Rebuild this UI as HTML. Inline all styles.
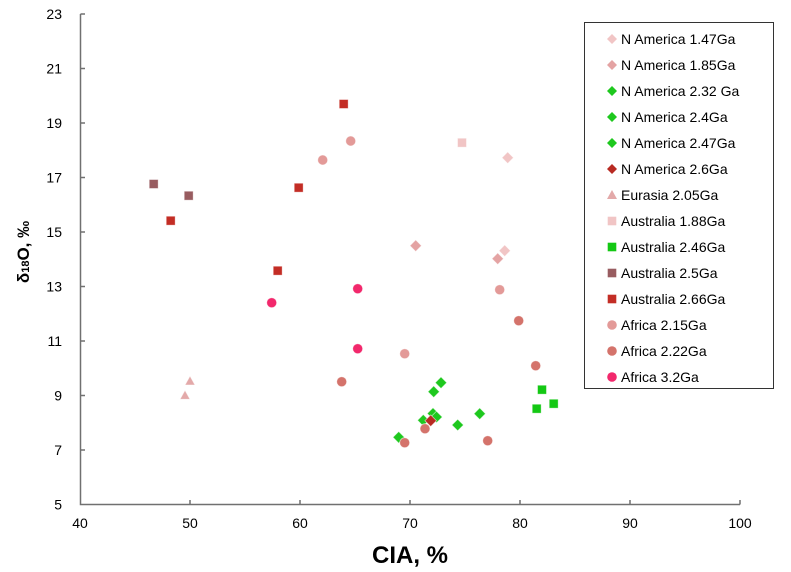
<!DOCTYPE html>
<html>
<head>
<meta charset="utf-8">
<style>
html,body{margin:0;padding:0;background:#fff;}
svg{display:block;}
text{font-family:"Liberation Sans",sans-serif;fill:#000;}
</style>
</head>
<body>
<svg width="791" height="572" viewBox="0 0 791 572" xmlns="http://www.w3.org/2000/svg">
<defs>
  <path id="dm" d="M0,-5.8 L5.8,0 L0,5.8 L-5.8,0 Z"/>
  <path id="dml" d="M0,-5 L5,0 L0,5 L-5,0 Z"/>
  <rect id="sq" x="-4.5" y="-4.5" width="9" height="9"/>
  <rect id="sql" x="-4.3" y="-4.3" width="8.6" height="8.6"/>
  <path id="tr" d="M0,-5 L5,4 L-5,4 Z"/>
  <path id="trl" d="M0,-5 L5,4 L-5,4 Z"/>
</defs>

<!-- axes -->
<g stroke="#707070" stroke-width="1.5" fill="none">
  <path d="M80.5,14 L80.5,504.5 L740,504.5"/>
  <path d="M80.5,14 H85 M80.5,68.5 H85 M80.5,123 H85 M80.5,177.5 H85 M80.5,232 H85 M80.5,286.5 H85 M80.5,341 H85 M80.5,395.5 H85 M80.5,450 H85"/>
  <path d="M190,504.5 V500 M300,504.5 V500 M410,504.5 V500 M520,504.5 V500 M630,504.5 V500 M740,504.5 V500"/>
</g>

<g font-size="14" text-anchor="end">
  <text x="62" y="19">23</text>
  <text x="62" y="73.5">21</text>
  <text x="62" y="128">19</text>
  <text x="62" y="182.5">17</text>
  <text x="62" y="237">15</text>
  <text x="62" y="291.5">13</text>
  <text x="62" y="346">11</text>
  <text x="62" y="400.5">9</text>
  <text x="62" y="455">7</text>
  <text x="62" y="509.5">5</text>
</g>
<g font-size="14" text-anchor="middle">
  <text x="80" y="528">40</text>
  <text x="190" y="528">50</text>
  <text x="300" y="528">60</text>
  <text x="410" y="528">70</text>
  <text x="520" y="528">80</text>
  <text x="630" y="528">90</text>
  <text x="740" y="528">100</text>
</g>

<text x="410" y="563" font-size="24" font-weight="bold" text-anchor="middle">CIA, %</text>
<text transform="translate(29,252) rotate(-90)" font-size="17" font-weight="bold" text-anchor="middle">δ<tspan font-size="11">18</tspan>O, ‰</text>

<g stroke="#ffffff" stroke-opacity="0.6" stroke-width="0.8">
  <g fill="#f1c5c5">
    <use href="#dm" x="507.7" y="157.7"/>
    <use href="#dm" x="504.7" y="250.7"/>
  </g>
  <g fill="#e4a3a3">
    <use href="#dm" x="415.7" y="245.7"/>
    <use href="#dm" x="497.7" y="258.7"/>
  </g>
  <g fill="#1ec81e">
    <use href="#dm" x="441" y="382.7"/>
    <use href="#dm" x="433.7" y="391.7"/>
    <use href="#dm" x="433" y="413.5"/>
    <use href="#dm" x="436.5" y="417"/>
    <use href="#dm" x="423.3" y="420.3"/>
    <use href="#dm" x="479.7" y="413.7"/>
    <use href="#dm" x="457.7" y="425"/>
    <use href="#dm" x="398.7" y="437.3"/>
  </g>
  <g fill="#b82a22">
    <use href="#dm" x="430.7" y="420.7"/>
  </g>
  <g fill="#e3a9a9">
    <use href="#tr" x="190" y="381"/>
    <use href="#tr" x="185" y="395.3"/>
  </g>
  <g fill="#f1c5c5">
    <use href="#sq" x="462" y="142.7"/>
  </g>
  <g fill="#14c814">
    <use href="#sq" x="542" y="389.7"/>
    <use href="#sq" x="553.7" y="403.7"/>
    <use href="#sq" x="536.7" y="408.7"/>
  </g>
  <g fill="#985c60">
    <use href="#sq" x="153.7" y="184"/>
    <use href="#sq" x="188.7" y="195.7"/>
  </g>
  <g fill="#c32d25">
    <use href="#sq" x="343.7" y="104"/>
    <use href="#sq" x="298.7" y="187.7"/>
    <use href="#sq" x="170.7" y="220.7"/>
    <use href="#sq" x="277.7" y="270.7"/>
  </g>
  <g fill="#e39a98">
    <circle cx="322.7" cy="160" r="5"/>
    <circle cx="350.7" cy="141" r="5"/>
    <circle cx="499.7" cy="289.7" r="5"/>
    <circle cx="404.7" cy="353.7" r="5"/>
  </g>
  <g fill="#d4736b">
    <circle cx="518.7" cy="320.7" r="5"/>
    <circle cx="535.7" cy="365.7" r="5"/>
    <circle cx="341.7" cy="381.7" r="5"/>
    <circle cx="425" cy="428.7" r="5"/>
    <circle cx="404.7" cy="442.7" r="5"/>
    <circle cx="487.7" cy="440.7" r="5"/>
  </g>
  <g fill="#f2286c">
    <circle cx="357.7" cy="288.7" r="5"/>
    <circle cx="271.7" cy="302.7" r="5"/>
    <circle cx="357.7" cy="348.7" r="5"/>
  </g>
</g>

<rect x="584.5" y="22.5" width="189" height="366" fill="#fff" stroke="#333" stroke-width="1"/>
<g>
  <use href="#dml" x="612" y="39" fill="#f1c5c5"/>
  <use href="#dml" x="612" y="65" fill="#e4a3a3"/>
  <use href="#dml" x="612" y="91" fill="#1ec81e"/>
  <use href="#dml" x="612" y="117" fill="#1ec81e"/>
  <use href="#dml" x="612" y="143" fill="#1ec81e"/>
  <use href="#dml" x="612" y="169" fill="#b82a22"/>
  <use href="#trl" x="612" y="195" fill="#e3a9a9"/>
  <use href="#sql" x="612" y="221" fill="#f1c5c5"/>
  <use href="#sql" x="612" y="247" fill="#14c814"/>
  <use href="#sql" x="612" y="273" fill="#985c60"/>
  <use href="#sql" x="612" y="299" fill="#c32d25"/>
  <circle cx="612" cy="325" r="4.8" fill="#e39a98"/>
  <circle cx="612" cy="351" r="4.8" fill="#d4736b"/>
  <circle cx="612" cy="377" r="4.8" fill="#f2286c"/>
</g>
<g font-size="14">
  <text x="621" y="44">N America 1.47Ga</text>
  <text x="621" y="70">N America 1.85Ga</text>
  <text x="621" y="96">N America 2.32 Ga</text>
  <text x="621" y="122">N America 2.4Ga</text>
  <text x="621" y="148">N America 2.47Ga</text>
  <text x="621" y="174">N America 2.6Ga</text>
  <text x="621" y="200">Eurasia 2.05Ga</text>
  <text x="621" y="226">Australia 1.88Ga</text>
  <text x="621" y="252">Australia 2.46Ga</text>
  <text x="621" y="278">Australia 2.5Ga</text>
  <text x="621" y="304">Australia 2.66Ga</text>
  <text x="621" y="330">Africa 2.15Ga</text>
  <text x="621" y="356">Africa 2.22Ga</text>
  <text x="621" y="382">Africa 3.2Ga</text>
</g>
</svg>
</body>
</html>
